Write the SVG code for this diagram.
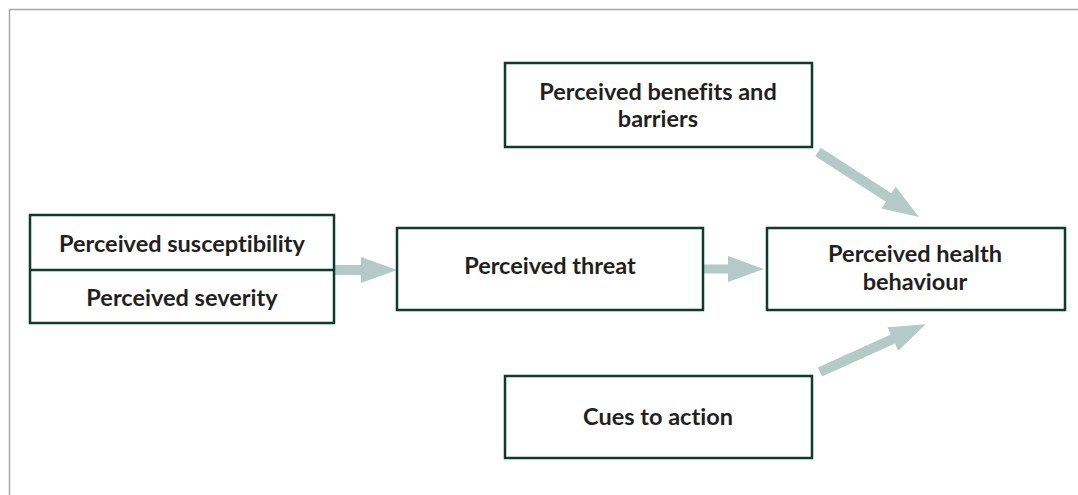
<svg xmlns="http://www.w3.org/2000/svg" width="1078" height="495" viewBox="0 0 1078 495">
<style>
.box{fill:#fff;stroke:#0d3b2e;stroke-width:2.5}
.t{font-family:Lato,"Open Sans","Liberation Sans",sans-serif;font-weight:700;font-size:23.5px;fill:#231f20;text-anchor:middle;font-variant-ligatures:none}
.arr{fill:#b3cbc7}
.frame{fill:none;stroke:#a8a8a8;stroke-width:1.5}
</style>
<rect width="1078" height="495" fill="#fff"/>
<path class="frame" d="M9.5,496 V9.5 H1079"/>
<g id="connectors">
<polygon class="arr" transform="translate(335,270)" points="0,-5 26,-5 26,-13 62,0 26,13 26,5 0,5"/>
<polygon class="arr" transform="translate(703,269)" points="0,-4.5 25,-4.5 25,-13 61,0 25,13 25,4.5 0,4.5"/>
<polygon class="arr" transform="translate(818,152) rotate(32.76)" points="0,-5 84,-5 84,-13 120,0 84,13 84,5 0,5"/>
<polygon class="arr" transform="translate(820,372) rotate(-24.36)" points="0,-5 80,-5 80,-13 116,0 80,13 80,5 0,5"/>
</g>
<g id="susceptibility-severity">
<rect class="box" x="30" y="215" width="304" height="108"/>
<line x1="30" y1="270" x2="334" y2="270" stroke="#0d3b2e" stroke-width="2.5"/>
<text class="t" x="182" y="252">Perceived susceptibility</text>
<text class="t" x="182" y="306">Perceived severity</text>
</g>
<g id="threat">
<rect class="box" x="397" y="228" width="306" height="82"/>
<text class="t" x="550" y="274">Perceived threat</text>
</g>
<g id="health">
<rect class="box" x="767" y="228" width="298" height="82"/>
<text class="t" x="915" y="262">Perceived health</text>
<text class="t" x="915" y="290">behaviour</text>
</g>
<g id="benefits">
<rect class="box" x="505" y="63" width="307" height="84"/>
<text class="t" x="658" y="100">Perceived benefits and</text>
<text class="t" x="658" y="127">barriers</text>
</g>
<g id="cues">
<rect class="box" x="505" y="376" width="307" height="82"/>
<text class="t" x="658" y="425">Cues to action</text>
</g>
</svg>
